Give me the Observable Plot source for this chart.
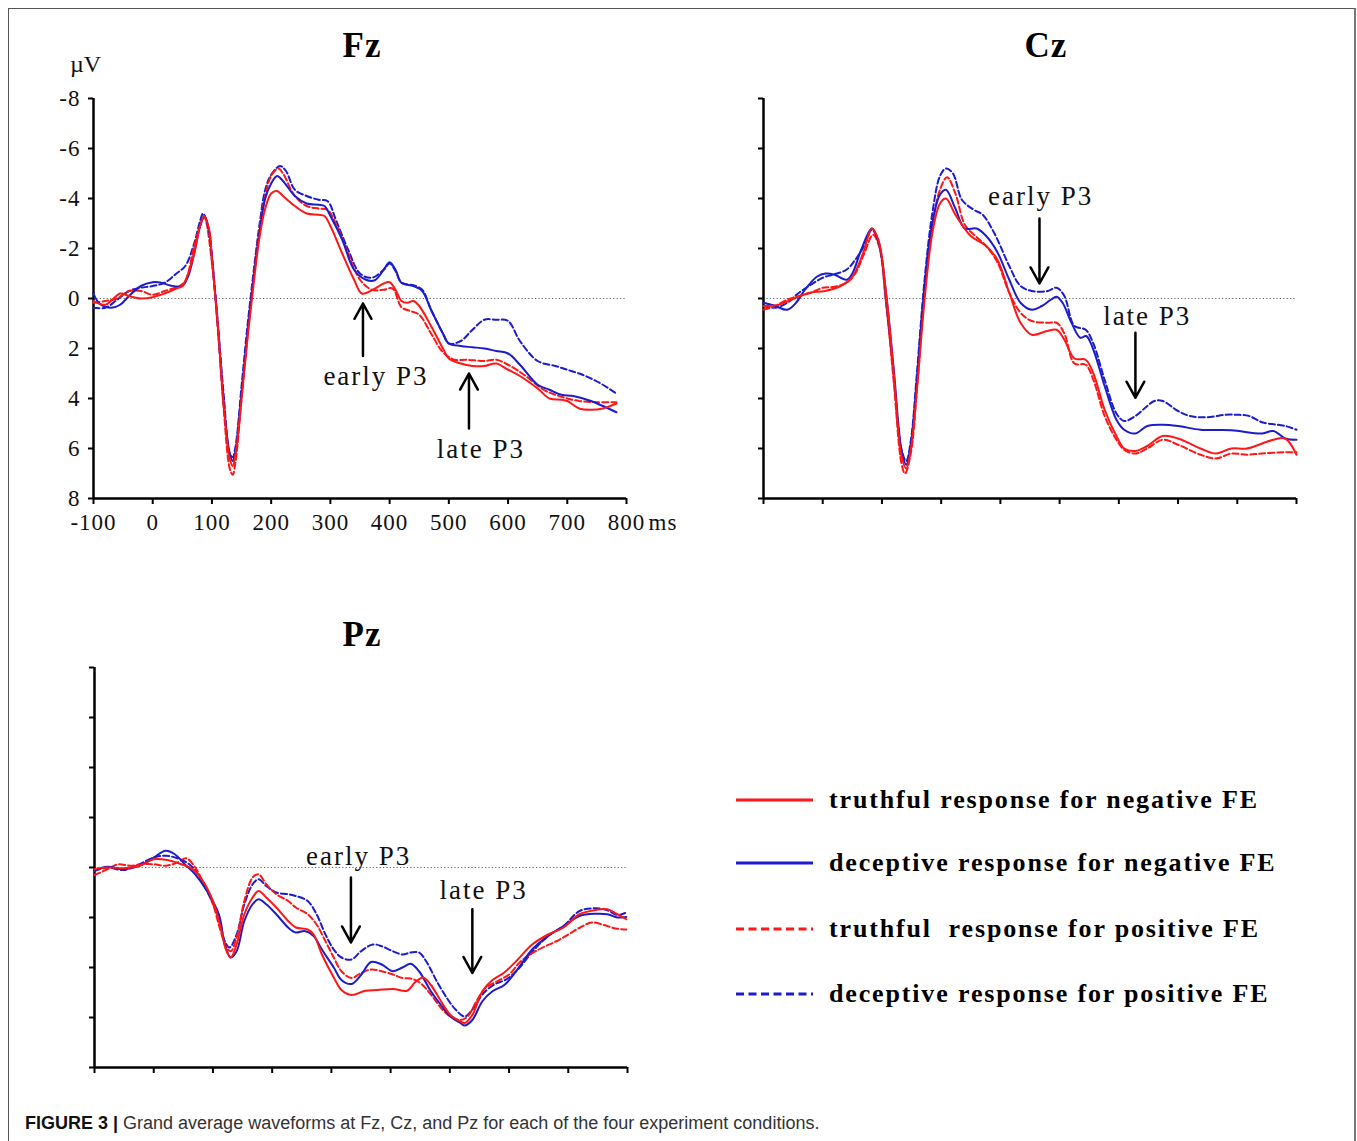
<!DOCTYPE html>
<html><head><meta charset="utf-8">
<script src="https://cdn.jsdelivr.net/npm/d3@7"></script>
<script src="https://cdn.jsdelivr.net/npm/@observablehq/plot@0.6"></script>
<style>
html,body{margin:0;padding:0;background:#fff;}
body{width:1357px;height:1141px;overflow:hidden;position:relative;}
#frame{position:absolute;left:8px;top:8px;width:1348px;height:1200px;border:1px solid #555;border-right:2px solid #777;box-sizing:border-box;}
.panel{position:absolute;width:700px;height:500px;}
.panel svg{overflow:visible;max-width:none !important;width:700px;height:500px;}
.title{position:absolute;width:200px;text-align:center;font:bold 35px "Liberation Serif","Times New Roman",serif;letter-spacing:1px;line-height:35px;color:#000;}
.legend-row{position:absolute;left:736px;height:30px;white-space:pre;}
.legend-row svg{position:absolute;left:0;top:0;}
.legend-row span{position:absolute;left:93px;top:0;line-height:30px;font:bold 26px "Liberation Serif","Times New Roman",serif;letter-spacing:1.85px;color:#000;white-space:pre;}
.caption{position:absolute;left:25px;top:1113px;font:18px "Liberation Sans",Arial,sans-serif;color:#333;white-space:nowrap;}
.caption b{color:#111;}
.ticklab text{letter-spacing:1px;}
.ann text{letter-spacing:2px;}
</style></head>
<body>
<div id="frame"></div>
<div id="root"></div>
<script>
// ---------- axis ticks ----------
const xTicks = [-100, 0, 100, 200, 300, 400, 500, 600, 700, 800];
const yTicks = [-8, -6, -4, -2, 0, 2, 4, 6, 8];

// ---------- series names ----------
const seriesNames = [
  "truthful response for negative FE",
  "deceptive response for negative FE",
  "truthful  response for positive FE",
  "deceptive response for positive FE"
];

// ---------- Fz (time ms, amplitude µV) ----------
const fzTruthNeg = [[-100,0.1],[-80,0.25],[-55,-0.2],[-40,-0.1],[-20,0],[0,-0.05],[20,-0.2],[40,-0.4],[50,-0.5],[60,-1.0],[70,-1.8],[80,-2.9],[87,-3.3],[95,-2.8],[100,-1.6],[110,1.1],[120,4.3],[130,6.4],[135,6.7],[140,6.2],[150,4.0],[160,1.6],[170,-0.5],[180,-2.4],[190,-3.6],[200,-4.2],[210,-4.3],[220,-4.1],[240,-3.7],[260,-3.4],[280,-3.35],[290,-3.3],[300,-2.9],[320,-1.8],[340,-0.75],[353,-0.2],[370,-0.33],[390,-0.6],[400,-0.65],[410,-0.35],[420,0.1],[430,0.17],[440,0.1],[450,0.3],[470,1.1],[490,2.0],[500,2.4],[520,2.6],[540,2.7],[560,2.7],[580,2.6],[600,2.85],[620,3.1],[650,3.6],[670,4.0],[690,4.05],[700,4.1],[720,4.4],[740,4.45],[760,4.4],[783,4.2]];
const fzDecepNeg = [[-100,-0.2],[-90,0.2],[-70,0.37],[-55,0.25],[-40,-0.1],[-20,-0.5],[0,-0.65],[15,-0.63],[30,-0.52],[50,-0.5],[60,-0.9],[70,-1.8],[80,-2.9],[87,-3.3],[95,-2.7],[100,-1.6],[110,1.1],[120,4.2],[130,6.2],[135,6.5],[140,6.05],[150,3.8],[160,1.4],[170,-0.75],[180,-2.6],[190,-4.0],[200,-4.6],[210,-4.9],[220,-4.7],[240,-4.1],[260,-3.8],[280,-3.75],[290,-3.7],[300,-3.3],[320,-2.35],[340,-1.15],[360,-0.75],[375,-0.73],[390,-1.15],[400,-1.45],[410,-1.15],[420,-0.63],[440,-0.5],[455,-0.3],[470,0.45],[490,1.4],[500,1.8],[520,1.9],[540,1.95],[560,2.0],[580,2.1],[600,2.2],[620,2.65],[650,3.45],[670,3.65],[690,3.85],[710,3.9],[740,4.1],[760,4.3],[783,4.55]];
const fzTruthPos = [[-100,0.17],[-80,0.1],[-60,0],[-40,-0.3],[-20,-0.3],[0,-0.15],[20,-0.3],[45,-0.5],[55,-0.7],[70,-2.1],[80,-2.9],[87,-3.25],[100,-1.45],[110,1.25],[120,4.45],[130,6.8],[135,7.05],[140,6.5],[150,4.0],[160,1.5],[170,-0.75],[180,-2.75],[190,-4.1],[200,-4.9],[212,-5.2],[220,-5.0],[240,-4.1],[260,-3.7],[280,-3.6],[295,-3.55],[310,-2.95],[330,-1.8],[350,-0.75],[370,-0.35],[390,-0.35],[405,-0.4],[420,0.35],[435,0.5],[450,0.65],[470,1.4],[490,2.15],[510,2.45],[530,2.45],[560,2.5],[580,2.45],[600,2.65],[630,3.1],[660,3.65],[680,3.85],[700,4.0],[720,4.1],[750,4.15],[783,4.15]];
const fzDecepPos = [[-100,0.37],[-80,0.37],[-60,0.05],[-40,-0.3],[-20,-0.43],[0,-0.5],[20,-0.63],[40,-1.0],[55,-1.3],[70,-2.2],[80,-3.1],[85,-3.4],[95,-2.75],[100,-1.7],[110,1.0],[120,3.9],[130,6.2],[135,6.35],[140,5.9],[150,3.5],[160,1.1],[170,-1.0],[180,-2.9],[190,-4.35],[200,-4.95],[215,-5.3],[225,-5.1],[240,-4.35],[260,-4.1],[280,-3.95],[295,-3.9],[310,-3.1],[330,-1.95],[350,-1.0],[370,-0.83],[390,-1.15],[400,-1.4],[410,-1.1],[420,-0.63],[440,-0.53],[455,-0.35],[470,0.45],[490,1.4],[500,1.8],[520,1.7],[540,1.25],[560,0.85],[580,0.85],[600,0.9],[620,1.7],[650,2.5],[680,2.7],[700,2.85],[720,3.0],[740,3.2],[760,3.45],[783,3.8]];

// ---------- Cz ----------
const czTruthNeg = [[-100,0.3],[-74,0.25],[-48,0],[-22,-0.23],[4,-0.3],[30,-0.5],[49,-0.83],[68,-1.8],[83,-2.8],[94,-2.35],[107,-0.2],[120,3.0],[133,6.3],[141,6.8],[149,6.0],[159,3.65],[172,0.05],[185,-2.6],[198,-3.8],[208,-4.0],[224,-3.35],[250,-2.5],[276,-2.1],[295,-1.55],[315,-0.23],[334,0.97],[353,1.45],[379,1.3],[395,1.25],[408,1.65],[425,2.4],[444,2.45],[457,3.0],[476,4.45],[496,5.5],[509,6.0],[528,6.1],[548,5.9],[574,5.5],[600,5.6],[638,6.0],[664,6.2],[690,6.0],[716,6.0],[742,5.8],[761,5.65],[781,5.6],[800,6.25]];
const czDecepNeg = [[-100,0.17],[-80,0.3],[-60,0.45],[-45,0.17],[-30,-0.35],[-10,-0.87],[5,-1.0],[20,-0.95],[40,-0.75],[50,-1.0],[65,-1.95],[83,-2.8],[95,-2.2],[107,-0.2],[120,2.85],[133,6.05],[141,6.65],[149,5.8],[159,3.25],[172,-0.5],[185,-3.0],[198,-4.15],[208,-4.35],[224,-3.6],[240,-2.8],[260,-2.8],[276,-2.5],[295,-1.85],[315,-0.75],[334,0.17],[353,0.45],[370,0.3],[385,0.05],[395,-0.07],[405,0.17],[420,0.97],[435,1.57],[445,1.5],[457,2.05],[476,3.5],[496,4.85],[509,5.25],[528,5.4],[548,5.1],[574,5.05],[600,5.1],[638,5.25],[690,5.27],[742,5.4],[761,5.3],[781,5.6],[800,5.65]];
const czTruthPos = [[-100,0.45],[-80,0.3],[-60,0.05],[-40,-0.1],[-20,-0.23],[0,-0.43],[20,-0.47],[40,-0.63],[55,-1.0],[70,-1.8],[85,-2.55],[95,-2.1],[107,0.17],[120,3.35],[133,6.6],[139,7.0],[149,6.15],[159,3.65],[172,-0.2],[185,-2.9],[198,-4.35],[210,-4.85],[224,-4.2],[240,-2.95],[260,-2.45],[276,-2.1],[295,-1.45],[315,-0.23],[334,0.57],[353,0.9],[380,0.97],[395,0.97],[408,1.4],[425,2.6],[444,2.65],[457,3.25],[476,4.7],[496,5.65],[509,6.05],[528,6.2],[548,6.0],[574,5.65],[600,5.85],[638,6.25],[664,6.4],[690,6.2],[716,6.25],[742,6.2],[781,6.15],[800,6.15]];
const czDecepPos = [[-100,0.3],[-80,0.37],[-60,0.17],[-40,-0.23],[-20,-0.55],[0,-0.83],[20,-0.97],[40,-1.15],[55,-1.55],[70,-2.1],[83,-2.75],[95,-2.2],[107,0.17],[120,3.1],[133,6.05],[141,6.5],[149,5.65],[159,3.0],[172,-0.75],[185,-3.4],[198,-4.9],[208,-5.2],[220,-5.0],[235,-3.95],[255,-3.55],[270,-3.35],[290,-2.6],[315,-1.3],[334,-0.5],[353,-0.3],[380,-0.3],[395,-0.43],[408,-0.1],[425,1.1],[444,1.25],[457,1.8],[476,3.25],[496,4.6],[509,4.9],[528,4.7],[548,4.3],[560,4.1],[574,4.1],[600,4.5],[620,4.7],[650,4.75],[680,4.65],[700,4.65],[720,4.7],[742,4.95],[781,5.1],[800,5.25]];

// ---------- Pz ----------
const pzTruthNeg = [[-100,0.07],[-78,0],[-51,0.03],[-24,-0.07],[0,-0.33],[23,-0.3],[43,-0.16],[66,0.07],[83,0.54],[100,1.34],[113,2.4],[122,3.28],[130,3.6],[140,3.08],[153,1.87],[167,1.2],[177,0.94],[190,1.2],[207,1.6],[227,2.14],[240,2.4],[260,2.48],[270,2.68],[284,3.48],[304,4.4],[317,4.9],[334,5.1],[357,4.93],[378,4.9],[404,4.86],[428,4.93],[441,4.6],[455,4.4],[468,4.7],[485,5.35],[501,5.9],[518,6.16],[525,6.22],[538,5.9],[555,4.95],[572,4.5],[592,4.2],[612,3.75],[639,3.08],[666,2.68],[692,2.4],[719,1.87],[746,1.7],[766,1.67],[783,1.87],[798,2.07]];
const pzDecepNeg = [[-100,0.1],[-78,-0.03],[-51,0.07],[-24,-0.07],[0,-0.4],[20,-0.67],[35,-0.54],[55,-0.07],[70,0.27],[90,0.94],[110,1.87],[120,3.08],[130,3.6],[140,3.35],[153,2.14],[167,1.47],[177,1.27],[190,1.47],[207,1.87],[227,2.4],[240,2.6],[255,2.54],[270,2.74],[284,3.28],[304,4.0],[317,4.5],[334,4.66],[350,4.3],[367,3.78],[385,3.88],[404,4.15],[420,4.0],[434,3.85],[448,4.15],[468,4.95],[485,5.5],[501,5.96],[518,6.22],[525,6.32],[538,6.1],[555,5.35],[572,4.95],[592,4.7],[612,4.15],[639,3.28],[666,2.74],[692,2.34],[719,1.94],[746,1.85],[766,1.87],[783,2.0],[798,1.98]];
const pzTruthPos = [[-100,0.3],[-78,0.07],[-60,-0.13],[-40,-0.07],[-20,-0.13],[0,-0.13],[20,-0.07],[40,-0.2],[55,-0.37],[70,0],[85,0.67],[100,1.47],[113,2.54],[122,3.15],[130,3.35],[140,2.8],[153,1.34],[167,0.4],[177,0.27],[190,0.67],[207,1.07],[227,1.34],[240,1.6],[260,1.87],[275,2.28],[290,2.95],[304,3.6],[317,4.15],[334,4.42],[350,4.22],[367,4.08],[385,4.15],[404,4.28],[420,4.42],[434,4.44],[450,4.62],[468,5.08],[485,5.62],[501,5.96],[518,6.1],[530,5.96],[545,5.35],[560,4.82],[580,4.55],[600,4.28],[620,3.75],[650,3.28],[680,2.95],[700,2.68],[720,2.4],[740,2.2],[760,2.3],[780,2.44],[798,2.48]];
const pzDecepPos = [[-100,0.13],[-78,0],[-51,0.1],[-24,-0.13],[0,-0.4],[20,-0.47],[40,-0.37],[60,-0.13],[75,0.27],[90,0.94],[110,2.0],[120,2.95],[128,3.2],[140,2.68],[153,1.47],[167,0.67],[177,0.47],[190,0.74],[207,1.0],[227,1.07],[240,1.14],[260,1.34],[275,1.87],[290,2.68],[304,3.28],[317,3.6],[334,3.68],[350,3.35],[370,3.08],[385,3.15],[404,3.35],[420,3.48],[434,3.4],[448,3.4],[460,3.75],[478,4.55],[495,5.22],[510,5.69],[525,5.96],[540,5.62],[555,5.08],[575,4.68],[595,4.48],[615,4.08],[640,3.35],[666,2.74],[692,2.34],[719,1.74],[746,1.63],[766,1.71],[783,1.9],[798,1.8]];

// ---------- P3 annotations: label, arrow time, arrow tail/tip (µV), label position ----------
const fzMarkers = [
  {label: "early P3", t: 355, tail: 2.3, tip: 0.2, labelT: 377, labelV: 3.12},
  {label: "late P3",  t: 534, tail: 5.2, tip: 3.0, labelT: 554, labelV: 6.04}
];
const czMarkers = [
  {label: "early P3", t: 366, tail: -3.2, tip: -0.6, labelT: 368, labelV: -4.1},
  {label: "late P3",  t: 528, tail: 1.37, tip: 3.97, labelT: 548, labelV: 0.7}
];
const pzMarkers = [
  {label: "early P3", t: 333, tail: 0.4, tip: 3.0, labelT: 346, labelV: -0.43},
  {label: "late P3",  t: 538, tail: 1.67, tip: 4.22, labelT: 557, labelV: 0.91}
];

// ---------- styling (kept apart from data) ----------
const RED = "#ff1616", BLUE = "#1c1ccc";
const seriesStyle = [
  {stroke: RED,  dash: null},
  {stroke: BLUE, dash: null},
  {stroke: RED,  dash: "6,3"},
  {stroke: BLUE, dash: "6,3"}
];
const SERIF = '"Liberation Serif","Times New Roman",serif';

const rows = arr => arr.map(([t, v]) => ({t, v}));

function makePanel({series, markers, labels, left, top}) {
  const W = 700, H = 500;
  const marks = [
    Plot.ruleY([0], {stroke: "#666", strokeWidth: 1.2, strokeDasharray: "1.2,2.2"}),
    Plot.axisY({ticks: yTicks, tickSize: 5, tickPadding: 8, strokeWidth: 2, stroke: "#000",
      tickFormat: labels ? (d => String(d)) : (() => ""), fontSize: 23, fill: "#111", className: "ticklab"}),
    Plot.axisX({ticks: xTicks, tickSize: 6, tickPadding: 9, strokeWidth: 2, stroke: "#000",
      tickFormat: labels ? (d => String(d)) : (() => ""), fontSize: 23, fill: "#111", className: "ticklab"}),
    Plot.ruleX([-100], {stroke: "#000", strokeWidth: 2.5}),
    Plot.ruleY([8], {stroke: "#000", strokeWidth: 2.5})
  ];
  // draw order: dashed first, then solid
  [3, 2, 1, 0].forEach(i => {
    marks.push(Plot.line(rows(series[i]), {
      x: "t", y: "v", stroke: seriesStyle[i].stroke, strokeWidth: 2,
      strokeDasharray: seriesStyle[i].dash || undefined, curve: "catmull-rom"
    }));
  });
  marks.push(Plot.arrow(markers, {x1: "t", x2: "t", y1: "tail", y2: "tip",
    stroke: "#000", strokeWidth: 2.5, headLength: 11, headAngle: 58}));
  marks.push(Plot.text(markers, {x: "labelT", y: "labelV", text: "label", fontSize: 27,
    fill: "#111", textAnchor: "middle", lineAnchor: "middle", className: "ann"}));
  if (labels) {
    marks.push(Plot.text(["µV"], {frameAnchor: "top-left", dx: -8, dy: -34, fontSize: 24, fill: "#111", textAnchor: "middle", lineAnchor: "middle"}));
    marks.push(Plot.text(["ms"], {frameAnchor: "bottom-right", dx: 22, dy: 15, fontSize: 23, fill: "#111", textAnchor: "start", lineAnchor: "top", className: "ticklab"}));
  }
  const chart = Plot.plot({
    width: W, height: H,
    marginLeft: 93, marginRight: 74, marginTop: 38, marginBottom: 62,
    x: {domain: [-100, 800], axis: null},
    y: {domain: [-8, 8], reverse: true, axis: null},
    style: {fontFamily: SERIF, fontSize: "23px", background: "transparent", overflow: "visible", color: "#111", maxWidth: "none"},
    marks
  });
  const div = document.createElement("div");
  div.className = "panel";
  div.style.left = left + "px";
  div.style.top = top + "px";
  div.appendChild(chart);
  document.getElementById("root").appendChild(div);
}

function addTitle(text, cx, top) {
  const d = document.createElement("div");
  d.className = "title";
  d.textContent = text;
  d.style.left = (cx - 100) + "px";
  d.style.top = top + "px";
  document.body.appendChild(d);
}

makePanel({series: [fzTruthNeg, fzDecepNeg, fzTruthPos, fzDecepPos], markers: fzMarkers, labels: true, left: 0, top: 60});
makePanel({series: [czTruthNeg, czDecepNeg, czTruthPos, czDecepPos], markers: czMarkers, labels: false, left: 670, top: 60});
makePanel({series: [pzTruthNeg, pzDecepNeg, pzTruthPos, pzDecepPos], markers: pzMarkers, labels: false, left: 1, top: 629});

addTitle("Fz", 362, 28);
addTitle("Cz", 1046, 28);
addTitle("Pz", 362, 617);

// ---------- legend ----------
const legendY = [800, 863, 929, 994];
seriesNames.forEach((name, i) => {
  const row = document.createElement("div");
  row.className = "legend-row";
  row.style.top = (legendY[i] - 15) + "px";
  const svg = d3.create("svg").attr("width", 80).attr("height", 30);
  svg.append("line").attr("x1", 0).attr("x2", 77).attr("y1", 15).attr("y2", 15)
    .attr("stroke", seriesStyle[i].stroke).attr("stroke-width", 3)
    .attr("stroke-dasharray", seriesStyle[i].dash ? "8,4.5" : null);
  row.appendChild(svg.node());
  const span = document.createElement("span");
  span.textContent = name;
  row.appendChild(span);
  document.body.appendChild(row);
});

// ---------- caption ----------
const cap = document.createElement("div");
cap.className = "caption";
cap.innerHTML = "<b>FIGURE 3 |</b> Grand average waveforms at Fz, Cz, and Pz for each of the four experiment conditions.";
document.body.appendChild(cap);
</script>
</body></html>
